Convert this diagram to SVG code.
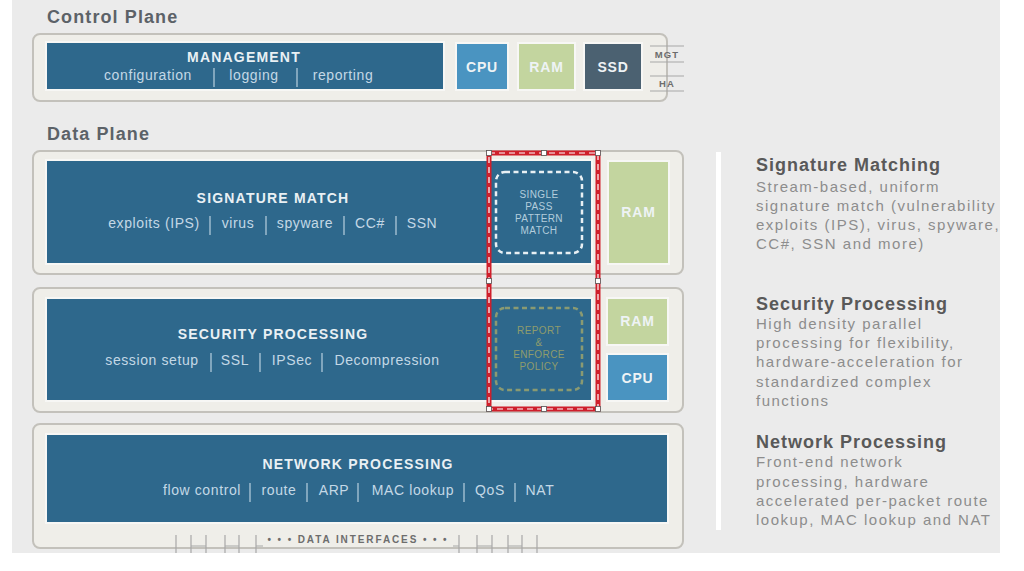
<svg xmlns="http://www.w3.org/2000/svg" width="1024" height="571" viewBox="0 0 1024 571">
<defs>
<style>
.panel{fill:#efeee9;stroke:#c3c1bb;stroke-width:2}
.blue{fill:#2e688c;stroke:#f7f7f5;stroke-width:2}
.cpu{fill:#4a94c1;stroke:#f7f7f5;stroke-width:2}
.ram{fill:#c3d59f;stroke:#f7f7f5;stroke-width:2}
.ssd{fill:#4b6171;stroke:#f7f7f5;stroke-width:2}
.sec{font-family:"Liberation Sans",Arial,sans-serif;font-weight:bold;font-size:18px;fill:#5c6268;letter-spacing:1.1px}
.bt{font-family:"Liberation Sans",Arial,sans-serif;font-weight:bold;font-size:14px;fill:#e9f0f4;letter-spacing:1.2px;text-anchor:middle}
.it{font-family:"Liberation Sans",Arial,sans-serif;font-size:14px;fill:#c4d8e6;text-anchor:middle;letter-spacing:0.6px}
.sep{stroke:#b9d0df;stroke-width:1.2}
.chip{font-family:"Liberation Sans",Arial,sans-serif;font-weight:bold;font-size:14px;fill:#eef3f5;text-anchor:middle;letter-spacing:0.8px}
.small{font-family:"Liberation Sans",Arial,sans-serif;font-weight:bold;font-size:9.5px;fill:#6d6d6d;text-anchor:middle;letter-spacing:1.2px}
.di{font-family:"Liberation Sans",Arial,sans-serif;font-weight:bold;font-size:10px;fill:#6d6d6d;text-anchor:middle;letter-spacing:1.9px}
.tag{font-family:"Liberation Sans",Arial,sans-serif;font-size:10px;fill:#b3cddc;text-anchor:middle;letter-spacing:0.4px}
.tag2{font-family:"Liberation Sans",Arial,sans-serif;font-size:10px;fill:#8e9c6c;text-anchor:middle;letter-spacing:0.4px}
.lh{font-family:"Liberation Sans",Arial,sans-serif;font-weight:bold;font-size:18px;fill:#595959;letter-spacing:1px}
.lb{font-family:"Liberation Sans",Arial,sans-serif;font-size:15px;fill:#8d8d8d;letter-spacing:1.5px}
.gl{stroke:#a8a8a8;stroke-width:1.2;fill:none}
</style>
</defs>
<rect x="0" y="0" width="1024" height="571" fill="#ffffff"/>
<rect x="12" y="0" width="988" height="553" fill="#ebebeb"/>

<g id="control-plane">
<text class="sec" x="47" y="23">Control Plane</text>
<rect class="panel" x="33" y="34" width="634" height="67" rx="7"/>
<line class="gl" x1="650" y1="46" x2="684" y2="46"/>
<line class="gl" x1="650" y1="62" x2="684" y2="62"/>
<line class="gl" x1="650" y1="76" x2="684" y2="76"/>
<line class="gl" x1="650" y1="91" x2="684" y2="91"/>
<text class="small" x="667" y="58">MGT</text>
<text class="small" x="667" y="87">HA</text>
</g>

<g id="management">
<rect class="blue" x="46" y="42" width="398" height="48"/>
<text class="bt" x="244" y="62">MANAGEMENT</text>
<text class="it" x="148" y="80">configuration</text>
<line class="sep" x1="214" y1="68" x2="214" y2="87"/>
<text class="it" x="254" y="80">logging</text>
<line class="sep" x1="297" y1="68" x2="297" y2="87"/>
<text class="it" x="343" y="80">reporting</text>
</g>
<g id="cp-cpu"><rect class="cpu" x="456" y="43" width="52" height="47"/><text class="chip" x="482" y="72">CPU</text></g>
<g id="cp-ram"><rect class="ram" x="518" y="43" width="57" height="47"/><text class="chip" x="546.5" y="72">RAM</text></g>
<g id="cp-ssd"><rect class="ssd" x="584" y="43" width="58" height="47"/><text class="chip" x="613" y="72">SSD</text></g>

<text class="sec" x="47" y="140">Data Plane</text>

<g id="signature-match">
<rect class="panel" x="33" y="151" width="650" height="123" rx="7"/>
<rect class="blue" x="46" y="160" width="546" height="104"/>
<text class="bt" x="273" y="203">SIGNATURE MATCH</text>
<text class="it" x="154" y="228">exploits (IPS)</text>
<line class="sep" x1="210" y1="216" x2="210" y2="235"/>
<text class="it" x="238" y="228">virus</text>
<line class="sep" x1="266" y1="216" x2="266" y2="235"/>
<text class="it" x="305" y="228">spyware</text>
<line class="sep" x1="344" y1="216" x2="344" y2="235"/>
<text class="it" x="370" y="228">CC#</text>
<line class="sep" x1="396" y1="216" x2="396" y2="235"/>
<text class="it" x="422" y="228">SSN</text>
<rect x="496" y="172" width="86" height="81" rx="9" fill="none" stroke="#e8f0f4" stroke-width="2.5" stroke-dasharray="5 3.5"/>
<text class="tag" x="539" y="198">SINGLE</text>
<text class="tag" x="539" y="210">PASS</text>
<text class="tag" x="539" y="222">PATTERN</text>
<text class="tag" x="539" y="234">MATCH</text>
<rect class="ram" x="608" y="161" width="61" height="103"/>
<text class="chip" x="638.5" y="217">RAM</text>
</g>

<g id="security-processing">
<rect class="panel" x="33" y="288" width="650" height="124" rx="7"/>
<rect class="blue" x="46" y="298" width="546" height="103"/>
<text class="bt" x="273" y="339">SECURITY PROCESSING</text>
<text class="it" x="152" y="365">session setup</text>
<line class="sep" x1="211" y1="353" x2="211" y2="372"/>
<text class="it" x="235" y="365">SSL</text>
<line class="sep" x1="260" y1="353" x2="260" y2="372"/>
<text class="it" x="292" y="365">IPSec</text>
<line class="sep" x1="322" y1="353" x2="322" y2="372"/>
<text class="it" x="387" y="365">Decompression</text>
<rect x="496" y="308" width="86" height="82" rx="9" fill="none" stroke="#8a9a72" stroke-width="2.5" stroke-dasharray="5 3.5"/>
<text class="tag2" x="539" y="334">REPORT</text>
<text class="tag2" x="539" y="346">&amp;</text>
<text class="tag2" x="539" y="358">ENFORCE</text>
<text class="tag2" x="539" y="370">POLICY</text>
<rect class="ram" x="607" y="298" width="61" height="47"/>
<text class="chip" x="637.5" y="326">RAM</text>
<rect class="cpu" x="607" y="354" width="61" height="47"/>
<text class="chip" x="637.5" y="383">CPU</text>
</g>

<g id="network-processing">
<rect class="panel" x="33" y="424" width="650" height="124" rx="7"/>
<rect class="blue" x="46" y="434" width="622" height="89"/>
<text class="bt" x="358" y="469">NETWORK PROCESSING</text>
<text class="it" x="202" y="495">flow control</text>
<line class="sep" x1="250" y1="483" x2="250" y2="502"/>
<text class="it" x="279" y="495">route</text>
<line class="sep" x1="307" y1="483" x2="307" y2="502"/>
<text class="it" x="334" y="495">ARP</text>
<line class="sep" x1="358" y1="483" x2="358" y2="502"/>
<text class="it" x="413" y="495">MAC lookup</text>
<line class="sep" x1="464" y1="483" x2="464" y2="502"/>
<text class="it" x="490" y="495">QoS</text>
<line class="sep" x1="515" y1="483" x2="515" y2="502"/>
<text class="it" x="540" y="495">NAT</text>
</g>

<g id="data-interfaces">
<path class="gl" d="M176 535V553 M191 535V553 M206 535V553 M225 535V553 M239 535V553 M256 535V553 M191 546H206 M225 546H239 M256 546H263 M459 535V553 M477 535V553 M492 535V553 M508 535V553 M522 535V553 M537 535V553 M477 546H492 M508 546H522 M453 546H459"/>
<text class="di" x="358" y="543">• • • DATA INTERFACES • • •</text>
</g>

<g id="connectors">
<rect x="489" y="153" width="109" height="256" fill="none" stroke="#cf1f2b" stroke-width="5"/>
<rect x="489" y="153" width="109" height="256" fill="none" stroke="#ffffff" stroke-width="1.2" stroke-dasharray="6 4"/>
<g fill="#ffffff" stroke="#555" stroke-width="0.8">
<rect x="486.5" y="150.5" width="5" height="5"/>
<rect x="541.5" y="150.5" width="5" height="5"/>
<rect x="595.5" y="150.5" width="5" height="5"/>
<rect x="486.5" y="278.5" width="5" height="5"/>
<rect x="595.5" y="278.5" width="5" height="5"/>
<rect x="486.5" y="406.5" width="5" height="5"/>
<rect x="541.5" y="406.5" width="5" height="5"/>
<rect x="595.5" y="406.5" width="5" height="5"/>
</g>
</g>

<rect x="716" y="152" width="5" height="378" fill="#ffffff"/>

<g id="legend">
<text class="lh" x="756" y="171">Signature Matching</text>
<text class="lb" x="756" y="192">Stream-based, uniform</text>
<text class="lb" x="756" y="211">signature match (vulnerability</text>
<text class="lb" x="756" y="230">exploits (IPS), virus, spyware,</text>
<text class="lb" x="756" y="249">CC#, SSN and more)</text>
<text class="lh" x="756" y="310">Security Processing</text>
<text class="lb" x="756" y="329">High density parallel</text>
<text class="lb" x="756" y="348">processing for flexibility,</text>
<text class="lb" x="756" y="367">hardware-acceleration for</text>
<text class="lb" x="756" y="387">standardized complex</text>
<text class="lb" x="756" y="406">functions</text>
<text class="lh" x="756" y="448">Network Processing</text>
<text class="lb" x="756" y="467">Front-end network</text>
<text class="lb" x="756" y="487">processing, hardware</text>
<text class="lb" x="756" y="506">accelerated per-packet route</text>
<text class="lb" x="756" y="525">lookup, MAC lookup and NAT</text>
</g>
</svg>
